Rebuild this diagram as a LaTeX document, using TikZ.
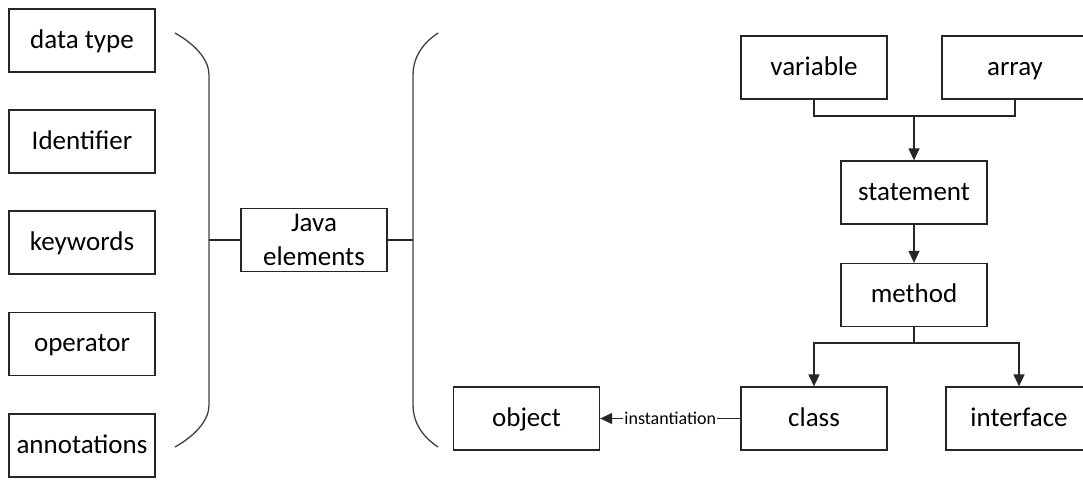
\documentclass[tikz,border=0pt]{standalone}
\usepackage{fontspec}
\setmainfont{Carlito}
\usetikzlibrary{arrows.meta}
\begin{document}
\begin{tikzpicture}[x=1pt,y=-1pt,
  plainbox/.style={draw=black!85, line width=1.3pt, minimum width=146pt, minimum height=63pt,
    inner sep=0pt, font=\fontsize{27}{34}\selectfont, align=center, fill=white},
  box/.style={plainbox, text height=20pt, text depth=5pt},
  link/.style={draw=black!85, line width=1.3pt},
  arr/.style={link, -{Triangle[length=12pt,width=11pt]}},
  brace/.style={draw=black!75, line width=1.3pt}]
\useasboundingbox (0,0) rectangle (1083,480);

% left column of language elements
\node[box] (dtype) at (82,40.5) {data type};
\node[box] (ident) at (82,141.5) {Identifier};
\node[box] (kw)    at (82,242.5) {keywords};
\node[box] (op)    at (82,344) {operator};
\node[box] (ann)   at (82,445.5) {annotations};

% central node
\node[plainbox] (java) at (314,240) {Java\\elements};

% the two braces enclosing the centre
\draw[brace] (175,33) .. controls (196,45) and (209,60) .. (209,75) -- (209,405)
  .. controls (209,420) and (196,435) .. (175,447);
\draw[brace] (438,33) .. controls (420,45) and (413,60) .. (413,75) -- (413,405)
  .. controls (413,420) and (420,435) .. (438,447);
\coordinate (lb) at (209,240);
\coordinate (rb) at (413,240);
\draw[link] (lb) -- (java.west);
\draw[link] (java.east) -- (rb);

% right hierarchy
\node[box] (var)   at (814,67.5) {variable};
\node[box] (arr)   at (1015,67.5) {array};
\node[box] (stmt)  at (914,192.5) {statement};
\node[box] (meth)  at (914,295) {method};
\node[box] (cls)   at (814,418.5) {class};
\node[box] (iface) at (1019,418.5) {interface};
\node[box] (obj)   at (526.5,418.5) {object};

\coordinate (j1) at (914,116);
\coordinate (j2) at (914,343);
\draw[link] (var.south) |- (j1) -| (arr.south);
\draw[arr] (j1) -- (stmt.north);
\draw[arr] (stmt.south) -- (meth.north);
\draw[link] (meth.south) -- (j2);
\draw[arr] (j2) -| (cls.north);
\draw[arr] (j2) -| (iface.north);
\draw[arr] (cls.west) -- node[fill=white, inner sep=1pt, font=\fontsize{18}{20}\selectfont] {instantiation} (obj.east);
\end{tikzpicture}
\end{document}
